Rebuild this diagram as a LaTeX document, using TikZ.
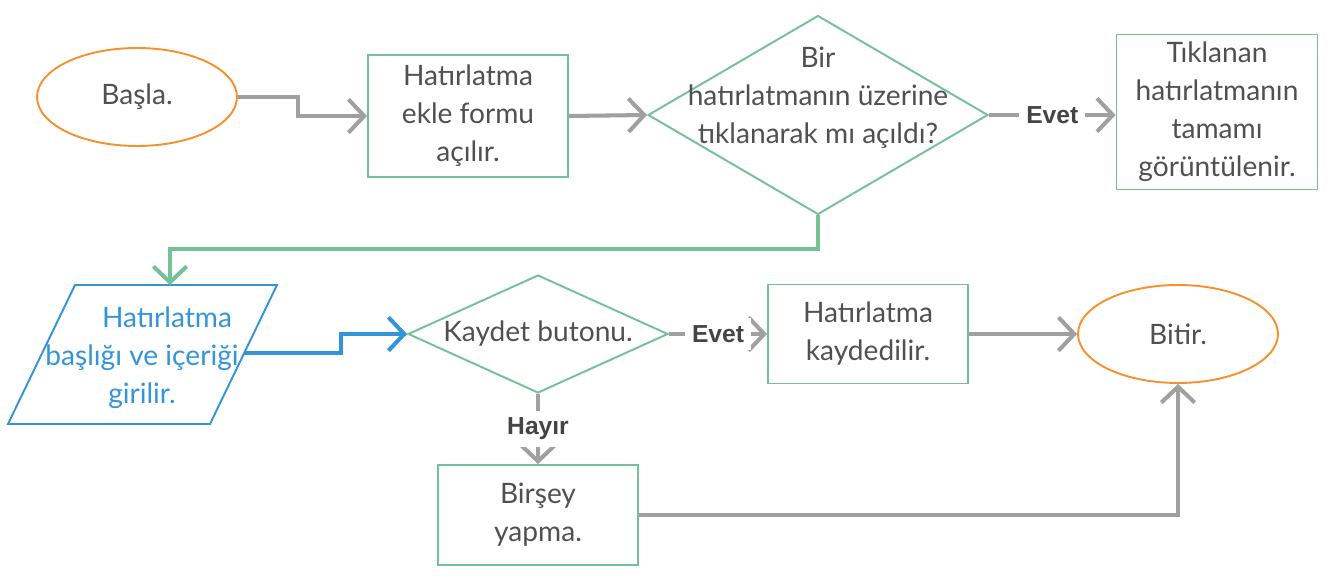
\documentclass[tikz,border=0pt]{standalone}
\usepackage{fontspec}
\setmainfont{Lato}
\setsansfont{Liberation Sans}
\usepackage{tikz}
\usetikzlibrary{arrows.meta,shapes.geometric}
\definecolor{lineGray}{HTML}{A0A0A0}
\definecolor{textGray}{HTML}{505050}
\definecolor{boxGreen}{HTML}{72C296}
\definecolor{startOrange}{HTML}{F5922F}
\definecolor{inBlue}{HTML}{3395D9}

\begin{document}
\begin{tikzpicture}[x=0.02cm,y=-0.02cm,>={Straight Barb[length=9pt,width=19pt]},
    txt/.style={font=\fontsize{16}{21.6}\selectfont,text=textGray,align=center},
    box/.style={rectangle,draw=boxGreen,line width=1.1pt,minimum width=4cm,txt},
    term/.style={ellipse,draw=startOrange,line width=1.1pt,minimum width=4cm,minimum height=1.96cm,txt},
    dia/.style={diamond,draw=boxGreen,line width=1.1pt,inner sep=0pt},
    flow/.style={->,line width=2.3pt,draw=lineGray},
    lbl/.style={fill=white,font=\sffamily\bfseries\fontsize{14}{16}\selectfont,text=textGray!85!black,inner sep=4pt}]
    \useasboundingbox (0,0) rectangle (1332,580);
    % first row
    \node[term] (start) at (137,97) {Başla.};
    \node[box,minimum height=2.44cm] (form) at (468,116) {Hatırlatma\\ekle formu\\açılır.};
    \node[dia,minimum width=6.8cm,minimum height=3.98cm] (ask) at (818,115) {};
    \node[txt] (asktxt) at (818,98) {Bir\\hatırlatmanın üzerine\\tıklanarak mı açıldı?};
    \node[box,minimum width=4.02cm,minimum height=3.1cm] (show) at (1217,112) {Tıklanan\\hatırlatmanın\\tamamı\\görüntülenir.};
    % input parallelogram
    \draw[inBlue,line width=1.1pt] (75,285) -- (277,285) -- (210,424) -- (8,424) -- cycle;
    \coordinate (intop) at (170,285);
    \coordinate (inright) at (244,353);
    \node[txt,text=inBlue] (intxt) at (142,358) {\hspace*{1cm}Hatırlatma\\başlığı ve içeriği\\girilir.};
    % second row
    \node[dia,minimum width=5.2cm,minimum height=2.36cm] (save) at (538,334) {};
    \node[txt] (savetxt) at (538,334) {Kaydet butonu.};
    \node[box,minimum height=1.98cm] (saved) at (868,334) {Hatırlatma\\kaydedilir.};
    \node[term] (stop) at (1178,334) {Bitir.};
    \node[box,minimum height=2cm] (none) at (538,515) {Birşey\\yapma.};
    % connectors
    \draw[flow] (start.east) -- ++(60,0) |- (form.west);
    \draw[flow] (form.east) -- (ask.west);
    \draw[flow] (ask.east) -- node[lbl]{Evet} (ask.east -| show.west);
    \draw[flow,draw=boxGreen] (ask.south) -- ++(0,34) -| (intop);
    \draw[flow,draw=inBlue] (inright) -- ++(97,0) |- (save.west);
    \draw[flow] (save.east) -- node[lbl]{Evet} (saved.west);
    \draw[flow] (saved.east) -- (stop.west);
    \draw[flow] (save.south) -- node[lbl]{Hayır} (none.north);
    \draw[flow] (none.east) -| (stop.south);
\end{tikzpicture}
\end{document}
